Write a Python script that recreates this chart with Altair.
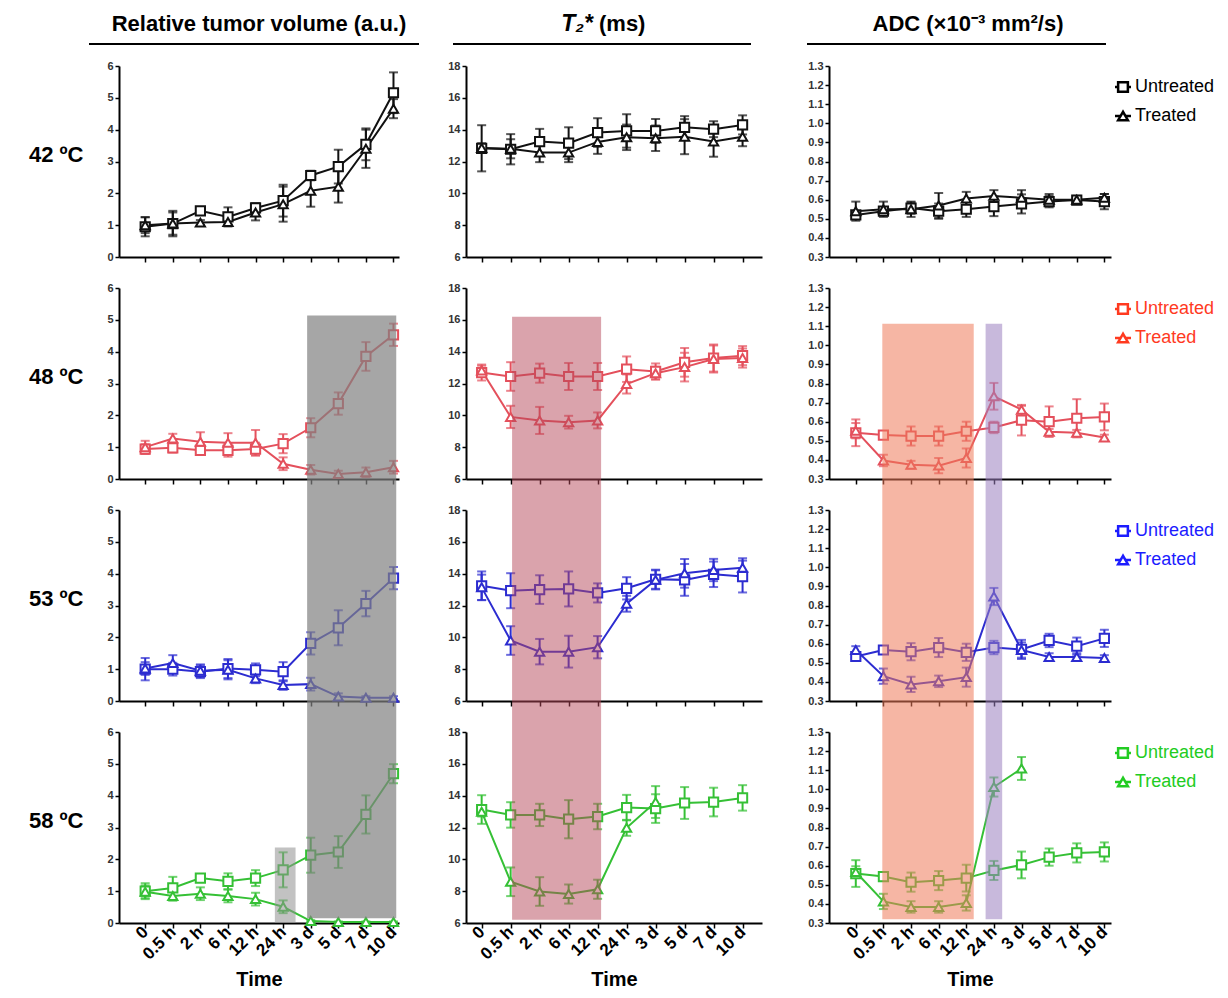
import json
import pandas as pd
import altair as alt

TIMES = ["0", "0.5 h", "2 h", "6 h", "12 h", "24 h", "3 d", "5 d", "7 d", "10 d"]
TEMPS = ["42 ºC", "48 ºC", "53 ºC", "58 ºC"]
SERIES = ["Untreated", "Treated"]

# ---- Relative tumor volume (a.u.) ----
VOL42_U = [0.95, 1.05, 1.45, 1.26, 1.54, 1.77, 2.56, 2.84, 3.54, 5.16]
VOL42_UE = [0.3, 0.4, 0.1, 0.3, 0.15, 0.5, 0.15, 0.53, 0.5, 0.64]
VOL42_T = [1.0, 1.05, 1.08, 1.1, 1.4, 1.66, 2.08, 2.21, 3.4, 4.66]
VOL42_TE = [0.25, 0.35, 0.08, 0.08, 0.25, 0.55, 0.5, 0.5, 0.6, 0.3]
VOL48_U = [0.94, 0.98, 0.9, 0.9, 0.94, 1.11, 1.61, 2.37, 3.85, 4.53]
VOL48_UE = [0.15, 0.15, 0.1, 0.2, 0.2, 0.3, 0.3, 0.35, 0.45, 0.35]
VOL48_T = [1.0, 1.27, 1.17, 1.14, 1.14, 0.48, 0.29, 0.16, 0.21, 0.37]
VOL48_TE = [0.2, 0.15, 0.3, 0.3, 0.4, 0.2, 0.15, 0.1, 0.15, 0.2]
VOL53_U = [1.0, 1.0, 0.92, 1.02, 0.98, 0.92, 1.81, 2.3, 3.06, 3.86]
VOL53_UE = [0.35, 0.2, 0.2, 0.3, 0.2, 0.3, 0.35, 0.55, 0.4, 0.35]
VOL53_T = [1.02, 1.19, 0.95, 0.98, 0.71, 0.5, 0.53, 0.14, 0.1, 0.1]
VOL53_TE = [0.2, 0.25, 0.2, 0.3, 0.15, 0.15, 0.2, 0.1, 0.05, 0.05]
VOL58_U = [1.0, 1.1, 1.41, 1.31, 1.41, 1.67, 2.13, 2.23, 3.41, 4.69]
VOL58_UE = [0.25, 0.35, 0.1, 0.25, 0.25, 0.55, 0.55, 0.5, 0.6, 0.3]
VOL58_T = [0.98, 0.85, 0.92, 0.85, 0.75, 0.51, 0.06, 0.03, 0.03, 0.03]
VOL58_TE = [0.2, 0.15, 0.2, 0.2, 0.2, 0.2, 0.03, 0.02, 0.02, 0.02]

# ---- T2* (ms) ----
T2_42_U = [12.83, 12.77, 13.25, 13.15, 13.82, 13.92, 13.92, 14.15, 14.03, 14.3]
T2_42_UE = [1.45, 0.95, 0.8, 1.0, 0.9, 1.05, 0.75, 0.7, 0.5, 0.6]
T2_42_T = [12.85, 12.8, 12.56, 12.56, 13.23, 13.52, 13.46, 13.56, 13.25, 13.56]
T2_42_TE = [0.3, 0.6, 0.6, 0.6, 0.75, 0.8, 0.8, 1.1, 0.95, 0.6]
T2_48_U = [12.69, 12.44, 12.65, 12.44, 12.44, 12.9, 12.76, 13.33, 13.6, 13.75]
T2_48_UE = [0.5, 0.9, 0.6, 0.85, 0.85, 0.8, 0.5, 0.9, 0.85, 0.6]
T2_48_T = [12.82, 9.9, 9.68, 9.57, 9.68, 11.97, 12.65, 13.03, 13.54, 13.6]
T2_48_TE = [0.3, 0.7, 0.85, 0.4, 0.5, 0.6, 0.4, 0.9, 0.85, 0.6]
T2_53_U = [13.24, 12.93, 13.0, 13.04, 12.79, 13.08, 13.65, 13.61, 13.96, 13.82]
T2_53_UE = [0.9, 1.1, 0.9, 1.1, 0.6, 0.7, 0.6, 1.0, 0.8, 1.0]
T2_53_T = [13.14, 9.8, 9.1, 9.1, 9.38, 12.11, 13.61, 14.02, 14.23, 14.37]
T2_53_TE = [0.8, 0.9, 0.8, 1.0, 0.7, 0.5, 0.6, 0.9, 0.7, 0.6]
T2_58_U = [13.13, 12.79, 12.79, 12.52, 12.69, 13.25, 13.19, 13.54, 13.6, 13.86]
T2_58_UE = [0.9, 0.8, 0.7, 1.2, 0.8, 0.8, 0.9, 1.0, 0.9, 0.8]
T2_58_T = [12.99, 8.59, 7.98, 7.82, 8.12, 11.98, 13.6, None, None, None]
T2_58_TE = [0.3, 0.9, 0.9, 0.6, 0.6, 0.5, 1.0, None, None, None]

# ---- ADC (x10^-3 mm2/s) ----
ADC42_U = [0.52, 0.54, 0.556, 0.54, 0.55, 0.564, 0.578, 0.59, 0.598, 0.59]
ADC42_UE = [0.02, 0.02, 0.03, 0.04, 0.04, 0.05, 0.05, 0.03, 0.02, 0.04]
ADC42_T = [0.54, 0.55, 0.55, 0.57, 0.606, 0.62, 0.61, 0.6, 0.6, 0.61]
ADC42_TE = [0.05, 0.04, 0.04, 0.065, 0.035, 0.03, 0.04, 0.03, 0.02, 0.02]
ADC48_U = [0.542, 0.53, 0.525, 0.525, 0.55, 0.57, 0.608, 0.6, 0.618, 0.625]
ADC48_UE = [0.07, 0.02, 0.05, 0.05, 0.05, 0.03, 0.08, 0.08, 0.1, 0.07]
ADC48_T = [0.553, 0.397, 0.375, 0.37, 0.41, 0.733, 0.663, 0.547, 0.542, 0.517]
ADC48_TE = [0.04, 0.03, 0.02, 0.04, 0.05, 0.07, 0.02, 0.015, 0.015, 0.015]
ADC53_U = [0.533, 0.567, 0.558, 0.58, 0.555, 0.58, 0.57, 0.617, 0.587, 0.628]
ADC53_UE = [0.02, 0.02, 0.045, 0.05, 0.045, 0.035, 0.05, 0.035, 0.045, 0.045]
ADC53_T = [0.567, 0.43, 0.387, 0.403, 0.425, 0.847, 0.567, 0.53, 0.53, 0.525]
ADC53_TE = [0.02, 0.04, 0.04, 0.03, 0.05, 0.045, 0.04, 0.02, 0.02, 0.015]
ADC58_U = [0.559, 0.543, 0.514, 0.522, 0.535, 0.575, 0.604, 0.645, 0.667, 0.672]
ADC58_UE = [0.07, 0.02, 0.05, 0.05, 0.07, 0.05, 0.07, 0.045, 0.05, 0.05]
ADC58_T = [0.567, 0.413, 0.384, 0.384, 0.405, 1.012, 1.109, None, None, None]
ADC58_TE = [0.03, 0.04, 0.03, 0.03, 0.04, 0.05, 0.06, None, None, None]

DATA = [
    [(VOL42_U, VOL42_UE, VOL42_T, VOL42_TE), (VOL48_U, VOL48_UE, VOL48_T, VOL48_TE),
     (VOL53_U, VOL53_UE, VOL53_T, VOL53_TE), (VOL58_U, VOL58_UE, VOL58_T, VOL58_TE)],
    [(T2_42_U, T2_42_UE, T2_42_T, T2_42_TE), (T2_48_U, T2_48_UE, T2_48_T, T2_48_TE),
     (T2_53_U, T2_53_UE, T2_53_T, T2_53_TE), (T2_58_U, T2_58_UE, T2_58_T, T2_58_TE)],
    [(ADC42_U, ADC42_UE, ADC42_T, ADC42_TE), (ADC48_U, ADC48_UE, ADC48_T, ADC48_TE),
     (ADC53_U, ADC53_UE, ADC53_T, ADC53_TE), (ADC58_U, ADC58_UE, ADC58_T, ADC58_TE)],
]

# shaded windows (x in time-index units; top on 48 ºC row, bottom on 58 ºC row)
SHADE_COL = [0, 1, 2, 2]
SHADE_X0 = [5.87, 1.05, 0.96, 4.7]
SHADE_X1 = [9.1, 4.12, 4.27, 5.3]
SHADE_TOP = [5.14, 16.2, 1.113, 1.113]
SHADE_BOT = [0.15, 6.2, 0.32, 0.32]
SHADE_COLORS = ["#808080", "#b5485a", "#ee7a5a", "#9b7fc0"]
SHADE_OPAC = [0.7, 0.5, 0.55, 0.55]
# small window at 24 h in the 58 ºC volume panel
SMALL_X0, SMALL_X1, SMALL_TOP = [4.7], [5.45], [2.37]

LINE_COLORS = ["#111111", "#e4505c", "#2c2cd0", "#35c035"]
LEGEND_COLORS = ["#000000", "#ff3a1f", "#1c1cff", "#22cc22"]

XDOM = [[-0.95, 9.2], [-0.54, 9.67], [-0.97, 9.24]]
WIDTHS = [280, 296, 282]
YDOM = [[0, 6], [6, 18], [0.3, 1.3]]
YTICKS = [[0, 1, 2, 3, 4, 5, 6], [6, 8, 10, 12, 14, 16, 18],
          [0.3, 0.4, 0.5, 0.6, 0.7, 0.8, 0.9, 1.0, 1.1, 1.2, 1.3]]
YFMT = ["d", "d", ".1f"]
H = 191
GAP = 31
COLGAP = 67
FONT = "Liberation Sans"

LABEL_EXPR = json.dumps(TIMES).replace('"', "'") + "[datum.value]"


def xaxis(bottom):
    return alt.Axis(values=list(range(10)), labels=bottom, labelExpr=LABEL_EXPR,
                    labelAngle=-45, labelAlign="right", labelBaseline="middle",
                    labelFontSize=17, labelFontWeight="bold", labelColor="black",
                    labelPadding=1, labelOverlap=False, labelBound=False,
                    title="Time" if bottom else "", titleFontSize=20,
                    titleFontWeight="bold", titleColor="black", titlePadding=7,
                    tickSize=5, grid=False)


def yaxis(r, c):
    return alt.Axis(values=YTICKS[c], format=YFMT[c], labelFontSize=11,
                    labelFontWeight="bold", labelColor="#333333", labelPadding=2,
                    tickSize=4, grid=False, title=TEMPS[r] if c == 0 else "",
                    titleAngle=0, titleX=-36, titleY=88, titleAlign="right",
                    titleBaseline="middle", titleFontSize=22, titleFontWeight="bold",
                    titleColor="black")


def panel(r, c):
    u, ue, t, te = DATA[c][r]
    recs = []
    for s, m, e in (("Untreated", u, ue), ("Treated", t, te)):
        for i in range(len(TIMES)):
            if m[i] is None:
                continue
            recs.append({"idx": i, "series": s, "mean": m[i],
                         "lo": m[i] - e[i], "hi": m[i] + e[i]})
    df = pd.DataFrame(recs)
    col = LINE_COLORS[r]
    xs = alt.Scale(domain=XDOM[c], nice=False, zero=False)
    ys = alt.Scale(domain=YDOM[c], nice=False, zero=False)
    xa = xaxis(r == 3)
    ya = yaxis(r, c)

    def X(f):
        return alt.X(f"{f}:Q", scale=xs, axis=xa)

    def Y(f):
        return alt.Y(f"{f}:Q", scale=ys, axis=ya)

    base = alt.Chart(df)
    layers = [
        base.mark_line(strokeWidth=2, color=col).encode(x=X("idx"), y=Y("mean"), detail="series:N"),
        base.mark_rule(strokeWidth=2, color=col).encode(x=X("idx"), y=Y("lo"), y2="hi:Q"),
        base.mark_tick(orient="horizontal", size=9, thickness=2, color=col).encode(x=X("idx"), y=Y("lo")),
        base.mark_tick(orient="horizontal", size=9, thickness=2, color=col).encode(x=X("idx"), y=Y("hi")),
        base.transform_filter(alt.datum.series == "Untreated").mark_point(
            shape="square", size=85, filled=True, fill="white", stroke=col, strokeWidth=2, opacity=1
        ).encode(x=X("idx"), y=Y("mean")),
        base.transform_filter(alt.datum.series == "Treated").mark_point(
            shape="triangle-up", size=85, filled=True, fill="white", stroke=col, strokeWidth=2, opacity=1
        ).encode(x=X("idx"), y=Y("mean")),
    ]

    # shaded windows
    if r >= 1:
        for k in range(len(SHADE_COL)):
            if SHADE_COL[k] != c:
                continue
            top = SHADE_TOP[k] if r == 1 else YDOM[c][1]
            sd = pd.DataFrame({"x0": [SHADE_X0[k]], "x1": [SHADE_X1[k]],
                               "top": [top], "bot": [SHADE_BOT[k]]})
            y2 = alt.Y2("bot:Q") if r == 3 else alt.value(H + GAP)
            layers.append(alt.Chart(sd).mark_rect(color=SHADE_COLORS[k], opacity=SHADE_OPAC[k]).encode(
                x=alt.X("x0:Q", scale=xs, axis=xa), x2="x1:Q", y=Y("top"), y2=y2))
    if r == 3 and c == 0:
        sd = pd.DataFrame({"x0": SMALL_X0, "x1": SMALL_X1, "top": SMALL_TOP, "bot": [0]})
        layers.append(alt.Chart(sd).mark_rect(color="#909090", opacity=0.55).encode(
            x=alt.X("x0:Q", scale=xs, axis=xa), x2="x1:Q", y=Y("top"), y2="bot:Q"))

    W = WIDTHS[c]
    # column headers
    if r == 0:
        one = pd.DataFrame({"a": [0]})
        if c == 0:
            layers.append(alt.Chart(pd.DataFrame({"t": ["Relative tumor volume (a.u.)"]})).mark_text(
                font=FONT, fontSize=22, fontWeight="bold", align="center", baseline="middle", color="black"
            ).encode(x=alt.value(W / 2), y=alt.value(-42), text="t:N"))
            ul = (-30, 300)
        elif c == 1:
            layers.append(alt.Chart(pd.DataFrame({"t": ["T₂*"]})).mark_text(
                font=FONT, fontSize=23, fontWeight="bold", fontStyle="italic", align="right",
                baseline="middle", color="black"
            ).encode(x=alt.value(127), y=alt.value(-42), text="t:N"))
            layers.append(alt.Chart(pd.DataFrame({"t": ["(ms)"]})).mark_text(
                font=FONT, fontSize=22, fontWeight="bold", align="left", baseline="middle", color="black"
            ).encode(x=alt.value(133), y=alt.value(-42), text="t:N"))
            ul = (-13, 285)
        else:
            layers.append(alt.Chart(pd.DataFrame({"t": ["ADC (×10⁻³ mm²/s)"]})).mark_text(
                font=FONT, fontSize=22, fontWeight="bold", align="center", baseline="middle", color="black"
            ).encode(x=alt.value(139), y=alt.value(-42), text="t:N"))
            ul = (-22, 277)
        layers.append(alt.Chart(one).mark_rule(strokeWidth=2, color="black").encode(
            x=alt.value(ul[0]), x2=alt.value(ul[1]), y=alt.value(-22)))

    # legends at the right of the ADC column
    if c == 2:
        lc = LEGEND_COLORS[r]
        for j, (lab, shp) in enumerate(zip(SERIES, ["square", "triangle-up"])):
            yy = 21 + 29 * j
            ld = pd.DataFrame({"t": [lab]})
            layers.append(alt.Chart(ld).mark_rule(strokeWidth=2.5, color=lc).encode(
                x=alt.value(W + 4), x2=alt.value(W + 20), y=alt.value(yy)))
            layers.append(alt.Chart(ld).mark_point(
                shape=shp, size=95, filled=True, fill="white", stroke=lc, strokeWidth=2.5, opacity=1
            ).encode(x=alt.value(W + 12), y=alt.value(yy)))
            layers.append(alt.Chart(ld).mark_text(
                font=FONT, fontSize=18, align="left", baseline="middle", color=lc
            ).encode(x=alt.value(W + 24), y=alt.value(yy), text="t:N"))

    return alt.layer(*layers).properties(width=W, height=H)


panels = [panel(r, c) for r in range(4) for c in range(3)]

chart = alt.concat(*panels, columns=3, spacing={"row": GAP, "column": COLGAP},
                   bounds="flush").properties(
    padding={"left": 20, "top": 5, "right": 0, "bottom": 0}
).configure(font=FONT).configure_view(strokeWidth=0).configure_axis(
    domainColor="black", domainWidth=2, tickColor="black", tickWidth=1.5
)

chart.save("out.html", embed_options={"renderer": "svg", "actions": False})
